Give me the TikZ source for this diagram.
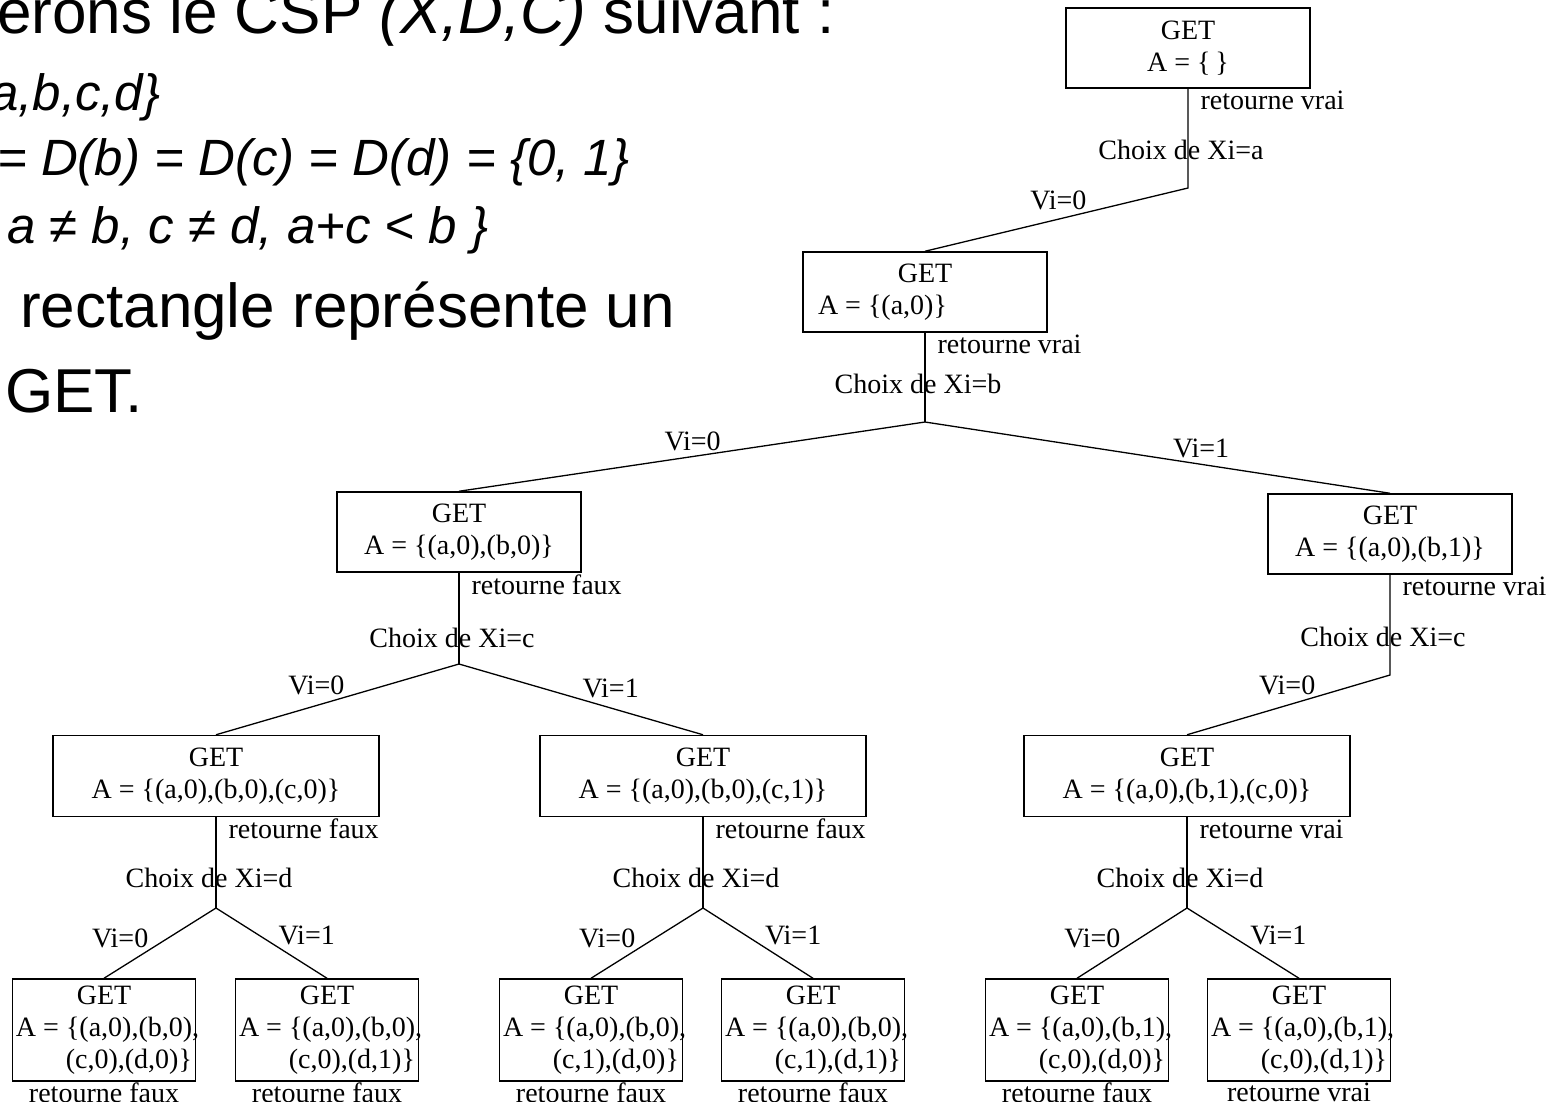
\documentclass[tikz,border=0pt]{standalone}
\usepackage{fontspec}
\setmainfont{Liberation Serif}
\newfontfamily\slidefont{Liberation Sans}
\usetikzlibrary{positioning}

% text of a leaf box: two lines of the assignment
\newcommand{\feuille}[2]{GET\\\makebox[176pt][l]{A = \{#1,}\\\makebox[176pt][r]{#2\}}}

\tikzset{
  treetext/.style={font=\fontsize{28}{32}\selectfont},
  getbox/.style={draw, line width=1.5pt, minimum width=244pt, minimum height=80pt,
    inner sep=0pt, align=center, treetext},
  widebox/.style={getbox, minimum width=326pt, minimum height=81pt},
  leafbox/.style={getbox, minimum width=183pt, minimum height=102pt},
  branch/.style={line width=1.3pt},
  ret/.style={pos=0, anchor=west, inner sep=0pt, xshift=12pt, yshift=-12pt, treetext},
  choix/.style={inner sep=0pt, xshift=-7pt, treetext},
  vileft/.style={anchor=south east, inner sep=1pt, treetext},
  viright/.style={anchor=south west, inner sep=1pt, treetext},
  slide/.style={anchor=base west, inner sep=0pt, font=\slidefont\fontsize{62}{74}\selectfont},
  slidemath/.style={anchor=base west, inner sep=0pt, font=\slidefont\itshape\fontsize{51}{61}\selectfont},
}

\begin{document}
\begin{tikzpicture}[x=1pt,y=-1pt]

    \useasboundingbox (0,0) rectangle (1557,1101);

    % slide text (cut at the left edge)
    \node[slide] (titre) at (-3,33) {erons le CSP \textit{(X,D,C)} suivant :};
    \node[slidemath] (vars) at (-10,110) {a,b,c,d\}};
    \node[slidemath] (doms) at (-3,175) {= D(b) = D(c) = D(d) = \{0, 1\}};
    \node[slidemath] (cons) at (7,243) {a ≠ b, c ≠ d, a+c < b \}};
    \node[slide] (rect) at (20,327) {rectangle représente un};
    \node[slide] (get) at (5,412) {GET.};

    % boxes
    \node[getbox] (n0) at (1188,48) {GET\\A = \{\,\}};
    \node[getbox] (n1) at (925,292) {GET\\\makebox[214pt][l]{A = \{(a,0)\}}};
    \node[getbox] (n2) at (459,532) {GET\\A = \{(a,0),(b,0)\}};
    \node[getbox] (n3) at (1390,534) {GET\\A = \{(a,0),(b,1)\}};
    \node[widebox] (n4) at (216,776) {GET\\A = \{(a,0),(b,0),(c,0)\}};
    \node[widebox] (n5) at (703,776) {GET\\A = \{(a,0),(b,0),(c,1)\}};
    \node[widebox] (n6) at (1187,776) {GET\\A = \{(a,0),(b,1),(c,0)\}};
    \node[leafbox] (n7) at (104,1030) {\feuille{(a,0),(b,0)}{(c,0),(d,0)}};
    \node[leafbox] (n8) at (327,1030) {\feuille{(a,0),(b,0)}{(c,0),(d,1)}};
    \node[leafbox] (n9) at (591,1030) {\feuille{(a,0),(b,0)}{(c,1),(d,0)}};
    \node[leafbox] (n10) at (813,1030) {\feuille{(a,0),(b,0)}{(c,1),(d,1)}};
    \node[leafbox] (n11) at (1077,1030) {\feuille{(a,0),(b,1)}{(c,0),(d,0)}};
    \node[leafbox] (n12) at (1299,1030) {\feuille{(a,0),(b,1)}{(c,0),(d,1)}};

    % branching points
    \coordinate (s0) at (1188,188);
    \coordinate (s1) at (925,422);
    \coordinate (s2) at (459,664);
    \coordinate (s3) at (1390,675);
    \coordinate (s4) at (216,908);
    \coordinate (s5) at (703,908);
    \coordinate (s6) at (1187,908);

    % choice of a and b
    \draw[branch] (n0.south) -- node[ret]{retourne vrai} node[choix,pos=.62]{Choix de Xi=a} (s0)
        -- node[vileft,pos=.38]{Vi=0} (n1.north);
    \draw[branch] (n1.south) -- node[ret]{retourne vrai} node[choix,pos=.57]{Choix de Xi=b} (s1);
    \draw[branch] (s1) -- node[vileft,pos=.435]{Vi=0} (n2.north);
    \draw[branch] (s1) -- node[viright,pos=.53]{Vi=1} (n3.north);

    % choice of c
    \draw[branch] (n2.south) -- node[ret]{retourne faux} node[choix,pos=.71]{Choix de Xi=c} (s2);
    \draw[branch] (s2) -- node[vileft,pos=.465]{Vi=0} (n4.north);
    \draw[branch] (s2) -- node[viright,pos=.5]{Vi=1} (n5.north);
    \draw[branch] (n3.south) -- node[ret]{retourne vrai} node[choix,pos=.62]{Choix de Xi=c} (s3)
        -- node[vileft,pos=.36]{Vi=0} (n6.north);

    % choice of d
    \foreach \n/\s/\r/\g/\d in {n4/s4/faux/n7/n8, n5/s5/faux/n9/n10, n6/s6/vrai/n11/n12} {
        \draw[branch] (\n.south) -- node[ret]{retourne \r} node[choix,pos=.67]{Choix de Xi=d} (\s);
        \draw[branch] (\s) -- node[vileft,pos=.59]{Vi=0} (\g.north);
        \draw[branch] (\s) -- node[viright,pos=.55]{Vi=1} (\d.north);
    }

    % results of the leaves
    \foreach \f/\r in {n7/faux, n8/faux, n9/faux, n10/faux, n11/faux, n12/vrai}
        \node[below=1pt of \f, inner sep=0pt, treetext] (r\f) {retourne \r};

\end{tikzpicture}
\end{document}
